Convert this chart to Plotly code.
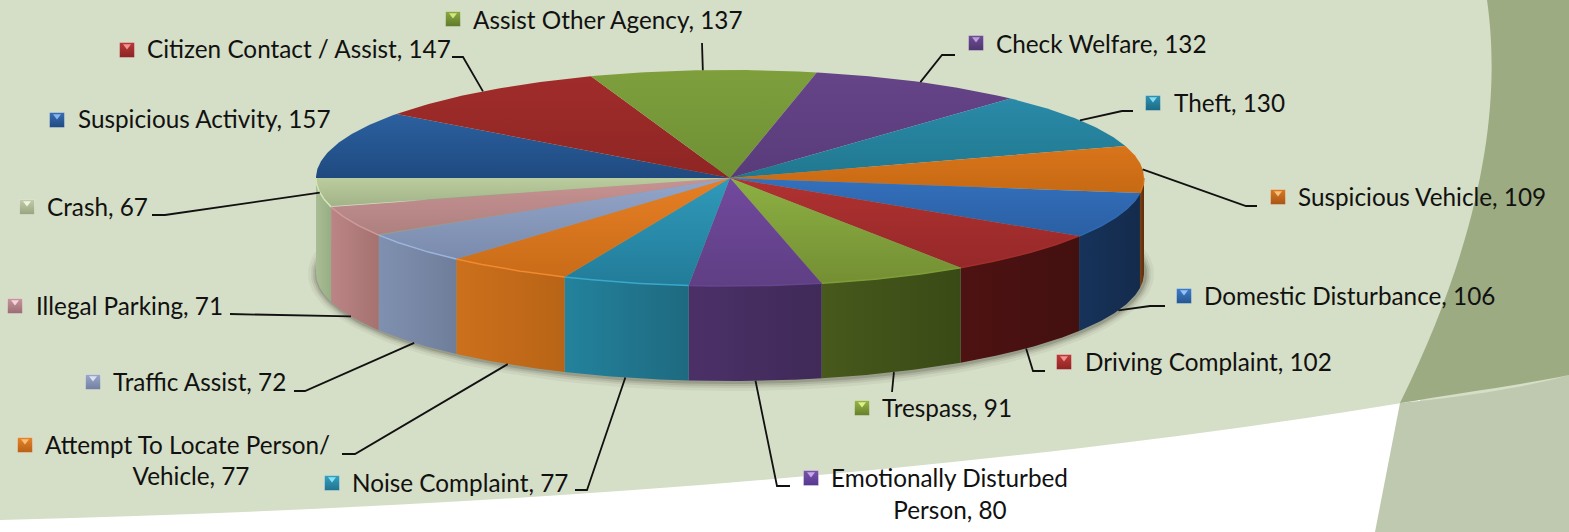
import numpy as np
import plotly.graph_objects as go

# ---- data (clockwise from the 9 o'clock position) ----
categories = ["Suspicious Activity", "Citizen Contact / Assist", "Assist Other Agency", "Check Welfare",
              "Theft", "Suspicious Vehicle", "Domestic Disturbance", "Driving Complaint", "Trespass",
              "Emotionally Disturbed\nPerson", "Noise Complaint", "Attempt To Locate Person/\nVehicle",
              "Traffic Assist", "Illegal Parking", "Crash"]
values = [157, 147, 137, 132, 130, 109, 106, 102, 91, 80, 77, 77, 72, 71, 67]

# ---- styles ----
top_light = ["#2B609F", "#A02C2A", "#7E9F3C", "#654488", "#2A8AA8", "#D9741A", "#3470BC", "#B03230", "#8CB043",
             "#72499E", "#3099BA", "#E67F25", "#93A5C9", "#C89292", "#BBCC9F"]
top_dark = ["#1F4A80", "#8E2624", "#6F9034", "#593B7A", "#20788F", "#C66A14", "#2A5FA3", "#96282A", "#748F33",
            "#5F3F84", "#227C99", "#C96C18", "#7A8BAD", "#AE8080", "#A2B487"]
rim_light = ["#2B609F", "#A02C2A", "#7E9F3C", "#654488", "#2A8AA8", "#D9741A", "#2F69B2", "#A42E2C", "#7E9E38",
             "#684490", "#3AA8CA", "#F08A30", "#9CB4DC", "#D09A9A", "#D4E4B8"]
side_left = ["#1F4A80", "#8E2624", "#6F9034", "#593B7A", "#20788F", "#7A4012", "#16335A", "#4E1212", "#47591C",
             "#4B3068", "#23829C", "#CC701C", "#8090B0", "#BB8585", "#A9BD94"]
side_right = ["#1F4A80", "#8E2624", "#6F9034", "#593B7A", "#20788F", "#5A2E10", "#142B4C", "#431010", "#3A4A16",
              "#3F2A58", "#1E6A80", "#B86416", "#6E7E9A", "#A57270", "#97AE85"]
key_colors = ["#3A6EB4", "#B83A38", "#8AAA44", "#6F4E94", "#3192B2", "#D87A26", "#3F7CC8", "#BE3C3A", "#97B648",
              "#7C54A8", "#38A0C0", "#E5842C", "#9AA8CA", "#C8969C", "#C2CCA8"]
key_dark = ["#1F4A80", "#8A2422", "#5F7A2A", "#4E3570", "#1C6A84", "#A85414", "#23578F", "#8E2422", "#667F2A",
            "#553790", "#1F7390", "#B86014", "#737FA0", "#9A6C72", "#98A480"]
key_tips = ["#8AB4EC", "#F49290", "#D4E67A", "#B8A0DC", "#84DEF2", "#F8C078", "#94C2F4", "#F49290", "#DEF088",
            "#C6A8EE", "#84E4F4", "#F8C078", "#DCE2F4", "#F4D4DA", "#F0F4DE"]

# ---- geometry of the tilted disc, in canvas pixels ----
CX, CY, RX, RY, DEPTH = 730, 178, 414, 108, 95

# label layout: key x, key y, text x, text y, second-line centre x, second-line y
label_pos = [(57, 120, 78, 122, None, None), (127, 50, 147, 52, None, None), (453, 19, 473, 23, None, None),
             (976, 43, 996, 47, None, None), (1153, 103, 1174, 106, None, None), (1278, 197, 1298, 200, None, None),
             (1184, 296, 1204, 299, None, None), (1064, 362, 1085, 365, None, None), (862, 408, 882, 411, None, None),
             (811, 478, 831, 481, 950, 513), (332, 483, 352, 486, None, None), (25, 445, 45, 448, 191, 479),
             (93, 382, 113, 385, None, None), (15, 306, 36, 309, None, None), (27, 207, 47, 210, None, None)]
# leader elbows running from the rim to the label; None = no leader
leader_elbows = [None, [(463, 57), (452, 57)], [(702, 43)], [(942, 55), (955, 55)], [(1122, 111), (1133, 111)],
                 [(1246, 206), (1257, 206)], [(1150, 306), (1165, 306)], [(1033, 371), (1045, 371)], [(892, 392)],
                 [(777, 486), (790, 486)], [(587, 490), (575, 490)], [(355, 454), (342, 454)],
                 [(305, 391), (294, 391)], [(240, 314), (230, 314)], [(165, 215), (152, 215)]]

total = sum(values)
edges = 270 + 360 * np.concatenate([[0], np.cumsum(values)]) / total


def rim(deg, dy=0.0):
    r = np.radians(deg)
    return CX + RX * np.sin(r), CY - RY * np.cos(r) + dy


fig = go.Figure()

# soft drop shadow under the disc
a = np.linspace(0, 360, 181)
for grow, alpha in [(9, 0.05), (6, 0.08), (4, 0.11), (2, 0.16)]:
    sx, sy = rim(a, DEPTH)
    sx = CX + (sx - CX) * (RX + grow) / RX + 1
    sy = CY + DEPTH + (sy - CY - DEPTH) * (RY + grow) / RY + 1
    fig.add_trace(go.Scatter(x=sx, y=sy, mode="lines", line=dict(width=0), fill="toself",
                             fillcolor=f"rgba(40,40,30,{alpha})", hoverinfo="skip"))

# walls
for i in range(len(values)):
    lo, hi = edges[i], edges[i + 1]
    for shift in (0, -360):
        s0, s1 = max(lo + shift, 90), min(hi + shift, 270)
        if s1 <= s0:
            continue
        t = np.linspace(s0, s1, 40)
        x0, y0 = rim(t)
        x1, y1 = rim(t[::-1], DEPTH)
        fig.add_trace(go.Scatter(
            x=np.r_[x0, x1, x0[0]], y=np.r_[y0, y1, y0[0]], mode="lines", line=dict(width=0), fill="toself",
            fillgradient=dict(type="horizontal", colorscale=[[0, side_left[i]], [1, side_right[i]]]),
            hoverinfo="skip"))

# top faces
for i in range(len(values)):
    t = np.linspace(edges[i], edges[i + 1], 50)
    x, y = rim(t)
    fig.add_trace(go.Scatter(
        x=np.r_[CX, x, CX], y=np.r_[CY, y, CY], mode="lines", line=dict(width=0), fill="toself",
        fillgradient=dict(type="vertical", colorscale=[[0, top_dark[i]], [1, top_light[i]]]), hoverinfo="skip"))

# light rim highlight along the front edge
for i in range(len(values)):
    for shift in (0, -360):
        s0, s1 = max(edges[i] + shift, 90), min(edges[i + 1] + shift, 270)
        if s1 > s0:
            x, y = rim(np.linspace(s0, s1, 40))
            fig.add_trace(go.Scatter(x=x, y=y, mode="lines", line=dict(width=1.5, color=rim_light[i]),
                                     hoverinfo="skip"))

# leaders
mids = (edges[:-1] + edges[1:]) / 2
for i, elbow in enumerate(leader_elbows):
    if elbow is None:
        continue
    m = mids[i] % 360
    ax, ay = rim(m, DEPTH if 90 < m < 255 else 0)
    fig.add_trace(go.Scatter(x=[ax] + [p[0] for p in elbow], y=[ay] + [p[1] for p in elbow], mode="lines",
                             line=dict(color="#111111", width=1.8), hoverinfo="skip"))

# legend keys
kx = [p[0] for p in label_pos]
ky = [p[1] for p in label_pos]
fig.add_trace(go.Scatter(x=kx, y=ky, mode="markers", hoverinfo="skip", marker=dict(
    symbol="square", size=15, color=key_colors, gradient=dict(type="vertical", color=key_dark),
    line=dict(width=1, color="rgba(255,255,255,0.3)"))))
fig.add_trace(go.Scatter(x=kx, y=[v - 4 for v in ky], mode="markers", hoverinfo="skip", marker=dict(
    symbol="triangle-down", size=7, color=key_tips, line=dict(width=0))))

# texts
first = [f"{c.split(chr(10))[0]}" + (f", {v}" if "\n" not in c else "") for c, v in zip(categories, values)]
fig.add_trace(go.Scatter(x=[p[2] for p in label_pos], y=[p[3] for p in label_pos], mode="text", text=first,
                         textposition="middle right", hoverinfo="skip",
                         textfont=dict(family="Lato", size=24.3, color="#111111")))
second = [(p[4], p[5], f"{c.split(chr(10))[1]}, {v}") for c, v, p in zip(categories, values, label_pos) if p[4]]
fig.add_trace(go.Scatter(x=[s[0] for s in second], y=[s[1] for s in second], mode="text",
                         text=[s[2] for s in second], textposition="middle center", hoverinfo="skip",
                         textfont=dict(family="Lato", size=24.3, color="#111111")))

# background artwork
shapes = [
    dict(type="path", xref="x", yref="y", layer="below", line_width=0, fillcolor="#FFFFFF",
         path="M 0 520 C 500 508, 1000 470, 1420 400 L 1420 532 L 0 532 Z"),
    dict(type="path", xref="x", yref="y", layer="below", line_width=0, fillcolor="#BFC9AF",
         path="M 1400 403 C 1400 403, 1500 395, 1569 375 L 1569 532 L 1375 532 Z"),
    dict(type="path", xref="x", yref="y", layer="below", line_width=0, fillcolor="#9DAB83",
         path="M 1487 0 C 1500 90, 1490 220, 1400 403 C 1460 393, 1520 385, 1569 375 L 1569 0 Z"),
]

fig.update_layout(
    width=1569, height=532, margin=dict(l=0, r=0, t=0, b=0), showlegend=False,
    paper_bgcolor="#D5DEC6", plot_bgcolor="rgba(0,0,0,0)", shapes=shapes,
    xaxis=dict(range=[0, 1569], visible=False, fixedrange=True),
    yaxis=dict(range=[532, 0], visible=False, fixedrange=True),
)
fig.write_html("out.html", config=dict(displayModeBar=False),
               post_script="document.body.style.margin='0';document.body.style.overflow='hidden';")
